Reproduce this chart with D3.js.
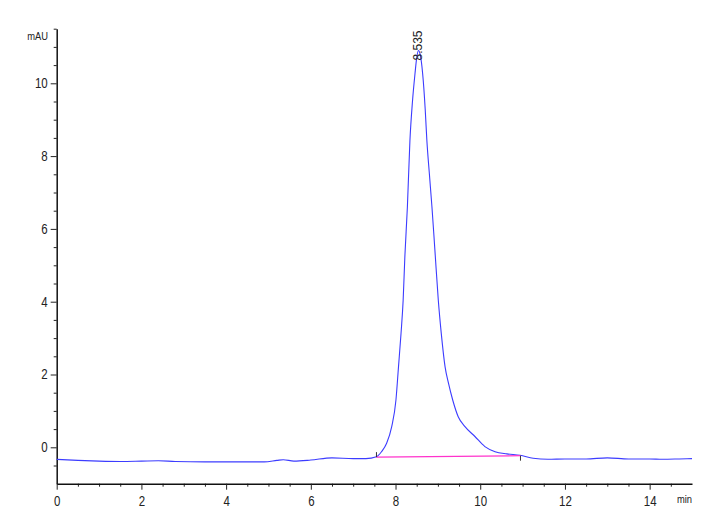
<!DOCTYPE html>
<html>
<head>
<meta charset="utf-8">
<script src="https://cdn.jsdelivr.net/npm/d3@7"></script>
<style>
  body { margin: 0; background: #fff; }
  svg text { font-family: "Liberation Sans", Arial, sans-serif; fill: #222; }
</style>
</head>
<body>
<svg id="chart" width="720" height="528"></svg>
<script>
// retention time (min) and signal (mAU)
const times = [0, 0.5, 1.0, 1.5, 2.0, 2.4, 2.8, 3.5, 4.2, 4.9, 5.2, 5.35, 5.6, 6.0, 6.5, 7.0, 7.3,
  7.55, 7.67, 7.79, 7.91, 8.01, 8.07, 8.13, 8.18, 8.22, 8.28, 8.34, 8.40, 8.46, 8.50, 8.54, 8.58,
  8.64, 8.70, 8.74, 8.80, 8.86, 8.93, 9.01, 9.08, 9.17, 9.25, 9.35, 9.48, 9.64, 9.88, 10.11, 10.35,
  10.63, 10.94, 11.25, 11.6, 12.0, 12.5, 13.0, 13.5, 14.0, 14.3, 14.7, 15.0];
const signal = [-0.33, -0.36, -0.38, -0.39, -0.38, -0.37, -0.39, -0.40, -0.40, -0.40, -0.36, -0.34, -0.38, -0.35, -0.29, -0.31, -0.31,
  -0.26, -0.12, 0.11, 0.57, 1.30, 2.21, 3.13, 4.04, 5.23, 6.6, 8.43, 9.5, 10.27, 10.7, 10.9, 10.8,
  10.27, 9.3, 8.43, 7.5, 6.6, 5.41, 4.04, 3.13, 2.21, 1.76, 1.30, 0.84, 0.57, 0.29, 0.02, -0.12,
  -0.18, -0.22, -0.30, -0.33, -0.32, -0.32, -0.29, -0.32, -0.32, -0.33, -0.32, -0.31];

// integration baseline under the peak: [start, end]
const baseTimes = [7.55, 10.95];
const baseValues = [-0.27, -0.23];

// peak label
const peakTime = 8.535;
const peakLabel = "8.535";

const xMajor = [0, 2, 4, 6, 8, 10, 12, 14];
const xMinor = [1, 3, 5, 7, 9, 11, 13, 0.5, 1.5, 2.5, 3.5, 4.5, 5.5, 6.5, 7.5, 8.5, 9.5, 10.5, 11.5, 12.5, 13.5, 14.5];
const yMajor = [0, 2, 4, 6, 8, 10];
const yMinor = [-0.5, 0.5, 1, 1.5, 2.5, 3, 3.5, 4.5, 5, 5.5, 6.5, 7, 7.5, 8.5, 9, 9.5, 10.5, 11, 11.5];

const svg = d3.select("#chart");

const x = d3.scaleLinear().domain([0, 15]).range([56.7, 692]);
const y = d3.scaleLinear().domain([-1, 11.5]).range([483.7, 28.7]);

// no narrow font installed, so squeeze the glyphs a bit
function narrow(sel, k) {
  sel.each(function () {
    const w = this.getComputedTextLength();
    if (w > 0) {
      d3.select(this).attr("textLength", w * k).attr("lengthAdjust", "spacingAndGlyphs");
    }
  });
}

// minor ticks first (no labels, short)
svg.append("g")
  .attr("transform", `translate(0,${y(-1)})`)
  .call(d3.axisBottom(x).tickValues(xMinor).tickSize(3).tickSizeOuter(0).tickFormat(""))
  .call(g => g.select(".domain").remove());
svg.append("g")
  .attr("transform", `translate(${x(0)},0)`)
  .call(d3.axisLeft(y).tickValues(yMinor).tickSize(3).tickSizeOuter(0).tickFormat(""))
  .call(g => g.select(".domain").remove());

// major axes
const xAxis = svg.append("g")
  .attr("transform", `translate(0,${y(-1)})`)
  .call(d3.axisBottom(x).tickValues(xMajor).tickSize(6).tickSizeOuter(0).tickPadding(6));
const yAxis = svg.append("g")
  .attr("transform", `translate(${x(0)},0)`)
  .call(d3.axisLeft(y).tickValues(yMajor).tickSize(6).tickSizeOuter(0).tickPadding(3));

svg.selectAll(".domain").attr("stroke", "#111").attr("stroke-width", 1.5);
svg.selectAll(".tick line").attr("stroke", "#222");
xAxis.selectAll("text").attr("font-size", 14).attr("font-family", null).call(narrow, 0.82);
yAxis.selectAll("text").attr("font-size", 14).attr("font-family", null).call(narrow, 0.82);

// unit labels
svg.append("text").attr("x", 48).attr("y", 40).attr("text-anchor", "end")
  .attr("font-size", 11).text("mAU").call(narrow, 0.85);
svg.append("text").attr("x", 692).attr("y", 503).attr("text-anchor", "end")
  .attr("font-size", 11).text("min").call(narrow, 0.85);

// the trace
const pts = times.map((t, i) => [t, signal[i]]);
const line = d3.line().x(d => x(d[0])).y(d => y(d[1])).curve(d3.curveMonotoneX);
svg.append("path").datum(pts)
  .attr("d", line)
  .attr("fill", "none")
  .attr("stroke", "#3c3cff")
  .attr("stroke-width", 1.1);

// baseline
svg.append("line")
  .attr("x1", x(baseTimes[0])).attr("y1", y(baseValues[0]))
  .attr("x2", x(baseTimes[1])).attr("y2", y(baseValues[1]))
  .attr("stroke", "#ff33cc").attr("stroke-width", 1.2);
// start / end marks
svg.append("line")
  .attr("x1", x(baseTimes[0])).attr("x2", x(baseTimes[0]))
  .attr("y1", y(baseValues[0]) - 5).attr("y2", y(baseValues[0]))
  .attr("stroke", "#333");
svg.append("line")
  .attr("x1", x(baseTimes[1])).attr("x2", x(baseTimes[1]))
  .attr("y1", y(baseValues[1])).attr("y2", y(baseValues[1]) + 5)
  .attr("stroke", "#333");

// peak label, rotated
const peakY = d3.max(signal);
svg.append("text")
  .attr("transform", `translate(${x(peakTime) + 4},${y(peakY) + 10}) rotate(-90)`)
  .attr("font-size", 12)
  .text(peakLabel);
</script>
</body>
</html>
